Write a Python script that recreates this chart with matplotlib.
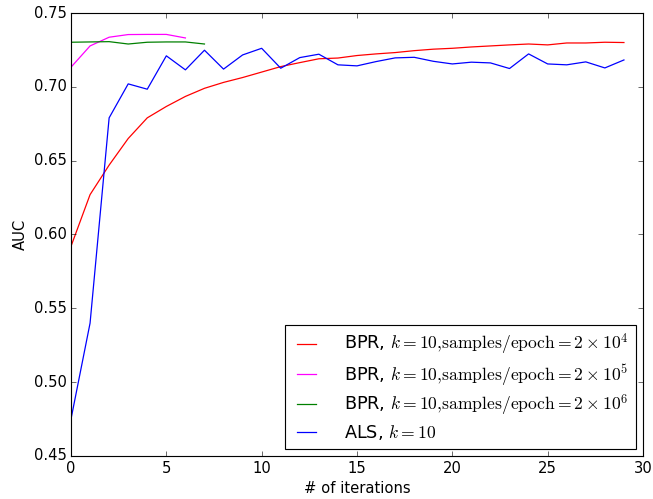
import matplotlib
matplotlib.use("Agg")
import matplotlib.pyplot as plt

plt.style.use("classic")
plt.rcParams["mathtext.fontset"] = "cm"
plt.rcParams["font.size"] = 13
plt.rcParams["xtick.labelsize"] = 13
plt.rcParams["ytick.labelsize"] = 13
plt.rcParams["axes.labelsize"] = 13

iters_bpr4 = list(range(30))
auc_bpr4 = [0.592, 0.627, 0.647, 0.665, 0.679, 0.6867, 0.6935, 0.699, 0.703, 0.7063,
            0.710, 0.7137, 0.7164, 0.719, 0.7195, 0.7212, 0.7223, 0.7232, 0.7245, 0.7255,
            0.7261, 0.727, 0.7277, 0.7284, 0.729, 0.7284, 0.7297, 0.7297, 0.7302, 0.730]

iters_bpr5 = list(range(7))
auc_bpr5 = [0.7133, 0.7277, 0.7336, 0.7354, 0.7355, 0.7355, 0.7331]

iters_bpr6 = list(range(8))
auc_bpr6 = [0.7302, 0.7304, 0.7306, 0.729, 0.7302, 0.7304, 0.7304, 0.729]

iters_als = list(range(30))
auc_als = [0.475, 0.540, 0.679, 0.702, 0.6984, 0.721, 0.7115, 0.7248, 0.712, 0.7216,
           0.7261, 0.7126, 0.7198, 0.7221, 0.7149, 0.7142, 0.7171, 0.7196, 0.720, 0.7173,
           0.7155, 0.7167, 0.7162, 0.7124, 0.7223, 0.7155, 0.7149, 0.7169, 0.7128, 0.7182]

DPI = 81.625
fig = plt.figure(figsize=(653 / DPI, 499 / DPI), dpi=DPI)
ax = fig.add_axes([71/653, 1 - 456/499, (643-71)/653, (456-13)/499])

ax.plot(iters_bpr4, auc_bpr4, color="r", lw=1.1,
        label=r"BPR, $k=10{,}\mathrm{samples/epoch}=2\times10^4$")
ax.plot(iters_bpr5, auc_bpr5, color="#ff00ff", lw=1.1,
        label=r"BPR, $k=10{,}\mathrm{samples/epoch}=2\times10^5$")
ax.plot(iters_bpr6, auc_bpr6, color="g", lw=1.1,
        label=r"BPR, $k=10{,}\mathrm{samples/epoch}=2\times10^6$")
ax.plot(iters_als, auc_als, color="b", lw=1.1, label=r"ALS, $k=10$")

ax.set_xlim(0, 30)
ax.set_ylim(0.45, 0.75)
ax.set_xlabel("# of iterations")
ax.set_ylabel("AUC")
ax.legend(loc="lower right", fontsize=15.5, handlelength=1.7,
          handletextpad=1.3, borderaxespad=0.4, labelspacing=0.28,
          borderpad=0.4)

fig.savefig("out.png", dpi=DPI)
